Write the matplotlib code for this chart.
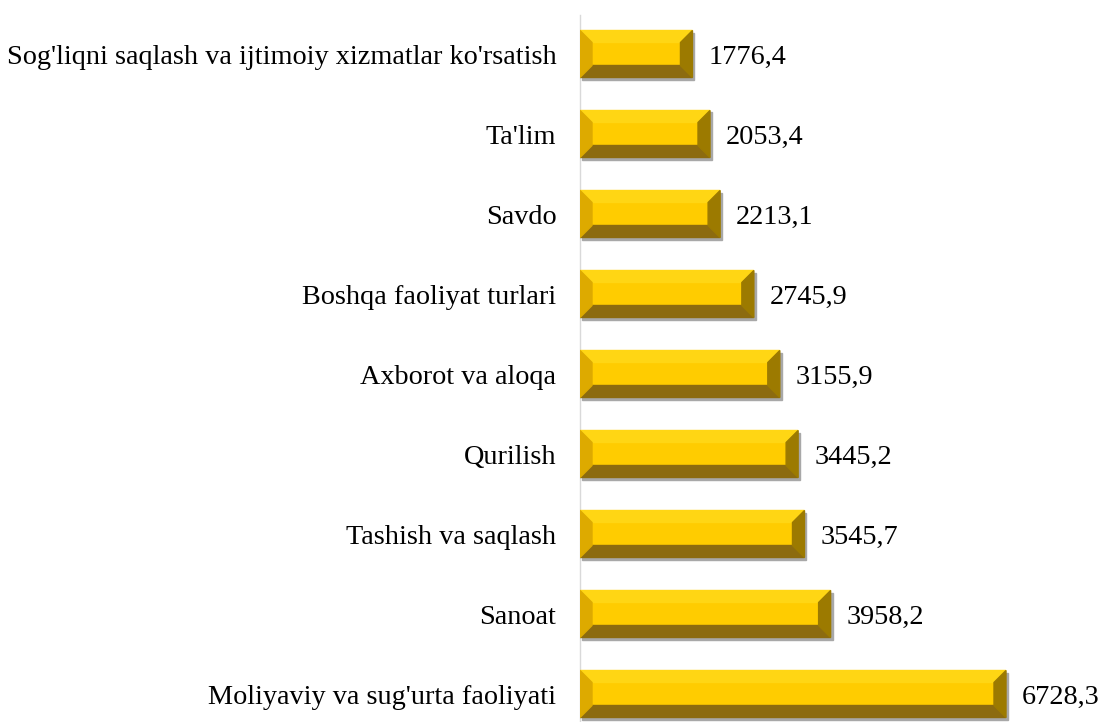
import matplotlib.pyplot as plt
from matplotlib.patches import Polygon, Rectangle

categories = ["Moliyaviy va sug'urta faoliyati", "Sanoat", "Tashish va saqlash", "Qurilish",
              "Axborot va aloqa", "Boshqa faoliyat turlari", "Savdo", "Ta'lim",
              "Sog'liqni saqlash va ijtimoiy xizmatlar ko'rsatish"]
values = [6728.3, 3958.2, 3545.7, 3445.2, 3155.9, 2745.9, 2213.1, 2053.4, 1776.4]

plt.rcParams['font.family'] = ['Liberation Serif', 'DejaVu Serif']

fig = plt.figure(figsize=(11.01, 7.22), dpi=100)
ax = fig.add_axes([580 / 1101, 0, 520 / 1101, 707 / 722])

px_x = 6728.3 / 426.0   # data units per pixel horizontally
px_y = 1 / 80.0         # data units per pixel vertically
bh = 47 * px_y
bx = 12 * px_x
by = 12 * px_y

ypos = list(range(len(categories)))
bars = ax.barh(ypos, values, height=bh, color='#FFCC00', edgecolor='none', zorder=2)

for b in bars:
    x0, y0 = b.get_x(), b.get_y()
    w, h = b.get_width(), b.get_height()
    x1, y1 = x0 + w, y0 + h
    # shadow
    ax.add_patch(Rectangle((x0 + 2 * px_x, y0 - 2 * px_y), w, h, color='#A8A8A8', zorder=1))
    # top bevel
    ax.add_patch(Polygon([(x0, y1), (x1, y1), (x1 - bx, y1 - by), (x0 + bx, y1 - by)],
                         closed=True, color='#FFD614', zorder=3))
    # bottom bevel
    ax.add_patch(Polygon([(x0, y0), (x1, y0), (x1 - bx, y0 + by), (x0 + bx, y0 + by)],
                         closed=True, color='#8C6B0F', zorder=3))
    # left bevel
    ax.add_patch(Polygon([(x0, y0), (x0, y1), (x0 + bx, y1 - by), (x0 + bx, y0 + by)],
                         closed=True, color='#DDAA00', zorder=3))
    # right bevel
    ax.add_patch(Polygon([(x1, y0), (x1, y1), (x1 - bx, y1 - by), (x1 - bx, y0 + by)],
                         closed=True, color='#9C7A00', zorder=3))
    ax.text(x1 + 16 * px_x, y0 + h / 2 - 3 * px_y, f"{w:.1f}".replace('.', ','),
            va='center', ha='left', fontsize=20.3, color='black')

ax.set_xlim(0, 520 * px_x)
ax.set_ylim(-0.35, 8.4875)
ax.set_yticks(ypos)
ax.set_yticklabels(categories, fontsize=20.3)
ax.tick_params(axis='y', length=0, pad=17)
ax.set_xticks([])
for s in ['top', 'right', 'bottom']:
    ax.spines[s].set_visible(False)
ax.spines['left'].set_color('#D9D9D9')
ax.spines['left'].set_linewidth(1)

fig.savefig('out.png', dpi=100)
